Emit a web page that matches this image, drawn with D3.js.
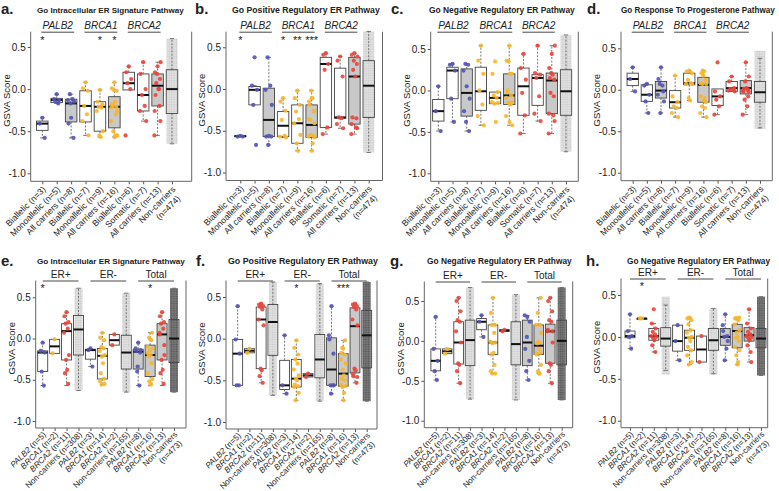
<!DOCTYPE html>
<html><head><meta charset="utf-8">
<script src="https://cdn.jsdelivr.net/npm/d3@7"></script>
<style>body{margin:0;background:#fff} text{font-family:"Liberation Sans",Arial,sans-serif;fill:#222}</style>
</head><body><svg id="chart" width="779" height="491"></svg>
<script>
// ---------------- DATA ----------------
const topCats = ["Biallelic (n=3)","Monoallelic (n=5)","All carriers (n=8)","Biallelic (n=7)","Monoallelic (n=9)","All carriers (n=16)","Biallelic (n=6)","Somatic (n=7)","All carriers (n=13)","Non-carriers|(n=474)"];
const topGene = ["PALB2","PALB2","PALB2","BRCA1","BRCA1","BRCA1","BRCA2","BRCA2","BRCA2","NC"];
const topFill = ["w","w","g","w","w","g","w","w","g","w"];
const topGroups = [["PALB2",0,2],["BRCA1",3,5],["BRCA2",6,8]];

const botGeneLbl = ["PALB2","BRCA1","BRCA2","Non-carriers","PALB2","BRCA1","BRCA2","Non-carriers","PALB2","BRCA1","BRCA2","Non-carriers"];
const botN = ["(n=5)","(n=2)","(n=11)","(n=308)","(n=3)","(n=14)","(n=2)","(n=165)","(n=8)","(n=16)","(n=13)","(n=473)"];
const botGene = ["PALB2","BRCA1","BRCA2","NC","PALB2","BRCA1","BRCA2","NC","PALB2","BRCA1","BRCA2","NCD"];
const botFill = ["w","w","w","w","w","w","w","w","g","g","g","g"];
const botGroups = [["ER+",0,3],["ER-",4,7],["Total",8,11]];

const titles = {a:"Go Intracellular ER Signature Pathway", b:"Go Positive Regulatory ER Pathway", c:"Go Negative Regulatory ER Pathway", d:"Go Response To Progesterone Pathway",
  e:"Go Intracellular ER Signature Pathway", f:"Go Positive Regulatory ER Pathway", g:"Go Negative Regulatory ER Pathway", h:"Go Negative Regulatory ER Pathway"};

// box stats: [whiskerLow, q1, median, q3, whiskerHigh]
const boxA = [[-0.58,-0.49,-0.41,-0.38,-0.34],[-0.17,-0.16,-0.13,-0.11,-0.06],[-0.58,-0.39,-0.17,-0.12,-0.06],[-0.55,-0.39,-0.2,-0.02,0.08],[-0.57,-0.5,-0.21,-0.15,-0.01],[-0.57,-0.46,-0.21,-0.09,0.08],[-0.01,-0.01,0.07,0.2,0.27],[-0.38,-0.26,-0.07,0.18,0.32],[-0.55,-0.2,0.04,0.18,0.32],[-0.65,-0.29,0.0,0.23,0.6]];
const ptsA1 = [-0.34,-0.41,-0.58], ptsA2 = [-0.06,-0.12,-0.13,-0.15,-0.17];
const ptsA4 = [0.08,0.01,-0.02,-0.2,-0.3,-0.38,-0.55], ptsA5 = [-0.01,-0.15,-0.18,-0.21,-0.22,-0.26,-0.5,-0.55,-0.57];
const ptsA7 = [0.27,0.2,0.12,0.07,0.0,-0.55], ptsA8 = [0.32,0.18,0.0,-0.07,-0.2,-0.26,-0.38];
const cloudA = [-0.65,0.6];
const starsA = ["*","","","","*","*","","","",""];

const boxB = [[-0.57,-0.57,-0.565,-0.56,-0.56],[-0.19,-0.19,-0.01,0.03,0.04],[-0.67,-0.57,-0.37,0.01,0.38],[-0.58,-0.57,-0.44,-0.27,-0.11],[-0.74,-0.65,-0.41,-0.19,-0.02],[-0.74,-0.58,-0.43,-0.19,-0.02],[-0.54,-0.46,0.30,0.38,0.43],[-0.47,-0.35,-0.34,0.25,0.39],[-0.54,-0.42,0.15,0.38,0.43],[-0.76,-0.34,0.04,0.34,0.69]];
const ptsB1 = [-0.56,-0.57,-0.57], ptsB2 = [0.38,0.04,-0.01,-0.19,-0.67];
const ptsB4 = [-0.11,-0.15,-0.26,-0.37,-0.56,-0.57,-0.58], ptsB5 = [-0.02,-0.11,-0.19,-0.27,-0.36,-0.41,-0.55,-0.65,-0.74];
const ptsB7 = [0.43,0.41,0.3,0.23,-0.46,-0.54], ptsB8 = [0.39,0.34,0.15,-0.34,-0.35,-0.42,-0.47];
const cloudB = [-0.76,0.69];
const starsB = ["*","","","*","**","***","","","",""];

const boxC = [[-0.49,-0.37,-0.25,-0.11,0.05],[-0.38,-0.1,0.24,0.28,0.32],[-0.49,-0.31,-0.03,0.26,0.32],[-0.42,-0.24,-0.01,0.28,0.54],[-0.16,-0.16,-0.09,-0.02,-0.02],[-0.42,-0.17,-0.06,0.2,0.54],[-0.52,-0.3,0.05,0.27,0.44],[-0.37,-0.18,0.15,0.19,0.54],[-0.52,-0.28,0.12,0.21,0.54],[-0.74,-0.3,-0.01,0.25,0.67]];
const ptsC1 = [0.05,-0.25,-0.49], ptsC2 = [0.32,0.31,0.24,-0.1,-0.38];
const ptsC4 = [0.54,0.36,0.2,0.0,-0.17,-0.31,-0.42], ptsC5 = [0.35,0.2,-0.02,-0.06,-0.09,-0.14,-0.15,-0.16,-0.38];
const ptsC7 = [0.44,0.27,0.13,-0.03,-0.3,-0.52], ptsC8 = [0.54,0.21,0.19,0.15,-0.07,-0.28,-0.37];
const cloudC = [-0.74,0.67];
const starsC = ["","","","","","","","","",""];

const boxD = [[-0.02,0.05,0.13,0.2,0.27],[-0.28,-0.14,-0.06,0.06,0.07],[-0.28,-0.1,-0.01,0.1,0.27],[-0.33,-0.22,-0.15,-0.01,0.17],[-0.13,0.06,0.08,0.2,0.23],[-0.33,-0.15,0.06,0.15,0.23],[-0.3,-0.19,-0.08,0.01,0.01],[-0.02,-0.02,0.02,0.1,0.16],[-0.3,-0.05,0.02,0.11,0.33],[-0.46,-0.15,-0.03,0.1,0.38]];
const ptsD1 = [0.27,0.13,-0.02], ptsD2 = [0.07,0.05,-0.06,-0.14,-0.28];
const ptsD4 = [0.17,-0.08,-0.15,-0.2,-0.22,-0.28,-0.33], ptsD5 = [0.23,0.22,0.2,0.12,0.08,0.07,0.07,-0.1,-0.13];
const ptsD7 = [0.33,-0.02,-0.08,-0.12,-0.2,-0.3], ptsD8 = [0.16,0.1,0.02,0.01,0.0,-0.01,-0.02];
const cloudD = [-0.47,0.47];
const starsD = ["","","","","","","","","",""];

const boxE = [[-0.57,-0.4,-0.17,-0.15,-0.05],[-0.18,-0.18,-0.095,-0.01,-0.01],[-0.57,-0.26,0.09,0.18,0.32],[-0.63,-0.2,0.11,0.28,0.61],[-0.34,-0.25,-0.14,-0.13,-0.12],[-0.56,-0.49,-0.21,-0.12,0.07],[-0.08,-0.08,-0.02,0.05,0.05],[-0.65,-0.37,-0.17,0.04,0.55],[-0.57,-0.37,-0.16,-0.13,-0.05],[-0.57,-0.46,-0.2,-0.08,0.07],[-0.57,-0.26,0.05,0.18,0.32],[-0.65,-0.29,0.0,0.23,0.61]];
const ptsE1 = [-0.05,-0.15,-0.17,-0.4,-0.57], ptsE2 = [-0.01,-0.18], ptsE3 = [0.32,0.27,0.2,0.18,0.12,0.07,-0.2,-0.26,-0.38,-0.42,-0.55];
const ptsE5 = [-0.12,-0.14,-0.34], ptsE6 = [0.07,0.01,-0.02,-0.1,-0.12,-0.15,-0.2,-0.22,-0.3,-0.42,-0.49,-0.52,-0.55,-0.56], ptsE7 = [0.05,-0.08];
const cloudsE = [[-0.63,0.61],[-0.65,0.55],[-0.65,0.61]];
const starsE = ["*","","","","","","","","","*","",""];

const boxF = [[-0.56,-0.56,-0.18,-0.01,0.39],[-0.17,-0.17,-0.145,-0.12,-0.12],[-0.53,-0.36,0.23,0.38,0.42],[-0.68,-0.2,0.2,0.41,0.68],[-0.66,-0.61,-0.56,-0.26,0.04],[-0.74,-0.58,-0.48,-0.25,-0.02],[-0.46,-0.46,-0.44,-0.42,-0.42],[-0.75,-0.47,-0.25,0.05,0.66],[-0.66,-0.56,-0.37,0.01,0.39],[-0.74,-0.57,-0.42,-0.18,-0.02],[-0.53,-0.41,0.15,0.37,0.42],[-0.75,-0.35,0.04,0.34,0.68]];
const ptsF1 = [0.39,-0.01,-0.18,-0.56,-0.56], ptsF2 = [-0.12,-0.17], ptsF3 = [0.42,0.41,0.39,0.38,0.35,0.23,0.16,-0.36,-0.38,-0.45,-0.53];
const ptsF5 = [0.04,-0.56,-0.66], ptsF6 = [-0.02,-0.11,-0.19,-0.25,-0.3,-0.37,-0.44,-0.48,-0.5,-0.55,-0.57,-0.58,-0.65,-0.74], ptsF7 = [-0.42,-0.46];
const cloudsF = [[-0.68,0.68],[-0.75,0.66],[-0.75,0.68]];
const starsF = ["","","","","","*","","","","***","",""];

const boxG = [[-0.49,-0.375,-0.25,-0.1,0.3],[-0.16,-0.16,-0.13,-0.1,-0.1],[-0.53,-0.29,-0.02,0.24,0.54],[-0.73,-0.31,0.01,0.26,0.67],[0.05,0.14,0.24,0.28,0.32],[-0.41,-0.17,-0.02,0.2,0.54],[0.12,0.12,0.13,0.14,0.14],[-0.74,-0.3,-0.04,0.24,0.58],[-0.49,-0.31,-0.02,0.26,0.32],[-0.41,-0.17,-0.06,0.2,0.54],[-0.53,-0.28,0.12,0.21,0.54],[-0.74,-0.3,0.0,0.26,0.67]];
const ptsG1 = [0.3,-0.1,-0.25,-0.38,-0.49], ptsG2 = [-0.1,-0.16], ptsG3 = [0.54,0.5,0.37,0.26,0.24,0.12,-0.02,-0.28,-0.3,-0.38,-0.53];
const ptsG5 = [0.32,0.24,0.05], ptsG6 = [0.54,0.35,0.2,0.2,0.1,-0.01,-0.02,-0.03,-0.15,-0.17,-0.3,-0.38,-0.41,-0.41], ptsG7 = [0.14,0.12];
const cloudsG = [[-0.73,0.67],[-0.74,0.58],[-0.74,0.67]];
const starsG = ["","","","","","","","","","","",""];

const boxH = [[-0.14,-0.01,0.01,0.07,0.27],[0.21,0.21,0.22,0.22,0.22],[-0.18,-0.04,0.01,0.1,0.16],[-0.4,-0.11,-0.02,0.11,0.38],[-0.28,-0.17,-0.05,0.14,0.14],[-0.33,-0.16,-0.01,0.08,0.23],[-0.3,-0.3,-0.15,0.01,0.01],[-0.44,-0.16,-0.04,0.1,0.34],[-0.28,-0.1,0.0,0.1,0.27],[-0.33,-0.13,0.07,0.15,0.23],[-0.3,-0.05,0.02,0.11,0.33],[-0.46,-0.13,-0.02,0.1,0.48]];
const ptsH1 = [0.27,0.07,0.01,0.0,-0.14], ptsH2 = [0.22,0.22], ptsH3 = [0.33,0.16,0.1,0.06,0.03,0.01,0.0,-0.02,-0.04,-0.1,-0.18];
const ptsH5 = [0.14,-0.05,-0.28], ptsH6 = [0.23,0.22,0.2,0.15,0.08,0.05,0.0,-0.01,-0.05,-0.12,-0.16,-0.22,-0.3,-0.33], ptsH7 = [0.01,-0.3];
const cloudsH = [[-0.45,0.48],[-0.45,0.34],[-0.46,0.48]];
const starsH = ["","*","","","","","","","","","",""];

const yTicks = [0.5, 0.0, -0.5, -1.0];

// ---------------- ASSEMBLY ----------------
const topPts = (p1,p2,p4,p5,p7,p8) => [p1,p2,p1.concat(p2),p4,p5,p4.concat(p5),p7,p8,p7.concat(p8),null];
const botPts = (p1,p2,p3,p5,p6,p7) => [p1,p2,p3,null,p5,p6,p7,null,p1.concat(p5),p2.concat(p6),p3.concat(p7),null];

const panels = [
 {id:"a", row:"top", box:boxA, pts:topPts(ptsA1,ptsA2,ptsA4,ptsA5,ptsA7,ptsA8), clouds:[null,null,null,null,null,null,null,null,null,cloudA], stars:starsA,
  L:{x0:30.7,x1:191.7,c1:42.3,cN:172,y05:47,y10:173.3,top:31.7,t0:37,t1:184,lx:1}},
 {id:"b", row:"top", box:boxB, pts:topPts(ptsB1,ptsB2,ptsB4,ptsB5,ptsB7,ptsB8), clouds:[null,null,null,null,null,null,null,null,null,cloudB], stars:starsB,
  L:{x0:226,x1:382.5,c1:240.3,cN:368.7,y05:47.3,y10:172.5,top:31.7,t0:232,t1:380,lx:195}},
 {id:"c", row:"top", box:boxC, pts:topPts(ptsC1,ptsC2,ptsC4,ptsC5,ptsC7,ptsC8), clouds:[null,null,null,null,null,null,null,null,null,cloudC], stars:starsC,
  L:{x0:430.7,x1:578.3,c1:438.3,cN:566,y05:49,y10:173.3,top:31.7,t0:429,t1:575,lx:391}},
 {id:"d", row:"top", box:boxD, pts:topPts(ptsD1,ptsD2,ptsD4,ptsD5,ptsD7,ptsD8), clouds:[null,null,null,null,null,null,null,null,null,cloudD], stars:starsD,
  L:{x0:621,x1:772.3,c1:632.7,cN:760,y05:48.3,y10:172.7,top:31.7,t0:621,t1:775,lx:587}},
 {id:"e", row:"bot", box:boxE, pts:botPts(ptsE1,ptsE2,ptsE3,ptsE5,ptsE6,ptsE7), clouds:[null,null,null,cloudsE[0],null,null,null,cloudsE[1],null,null,null,cloudsE[2]], stars:starsE,
  L:{x0:35.7,x1:186,c1:42.7,cN:174,y05:297.3,y10:421,top:280.5,t0:37,t1:185,lx:1}},
 {id:"f", row:"bot", box:boxF, pts:botPts(ptsF1,ptsF2,ptsF3,ptsF5,ptsF6,ptsF7), clouds:[null,null,null,cloudsF[0],null,null,null,cloudsF[1],null,null,null,cloudsF[2]], stars:starsF,
  L:{x0:226,x1:377,c1:237.7,cN:366.7,y05:297,y10:422,top:280.5,t0:228,t1:378,lx:196}},
 {id:"g", row:"bot", box:boxG, pts:botPts(ptsG1,ptsG2,ptsG3,ptsG5,ptsG6,ptsG7), clouds:[null,null,null,cloudsG[0],null,null,null,cloudsG[1],null,null,null,cloudsG[2]], stars:starsG,
  L:{x0:424.3,x1:572.7,c1:435.7,cN:561.7,y05:301,y10:420.7,top:281.5,t0:427,t1:572,lx:390}},
 {id:"h", row:"bot", box:boxH, pts:botPts(ptsH1,ptsH2,ptsH3,ptsH5,ptsH6,ptsH7), clouds:[null,null,null,cloudsH[0],null,null,null,cloudsH[1],null,null,null,cloudsH[2]], stars:starsH,
  L:{x0:621,x1:767.7,c1:630,cN:761,y05:295,y10:420.7,top:278.5,t0:627,t1:770,lx:586}}
];

const color = {PALB2:"#5353b3", BRCA1:"#f6b62c", BRCA2:"#e9443a"};
const jit = [0,-2.6,2.4,-1.3,1.5,-3.2,3.0,-0.6,0.8,-2.0,2.0,-2.9,2.8,-1.0,1.1,0.3,-1.7,1.8,-0.3,2.6,-2.4,0.5,-1.5,1.3,-0.9,0.9,-3.1,3.1,0.1,-2.2];

const svg = d3.select("#chart");
const defs = svg.append("defs");
function pat(id, bg, dot) {
  const p = defs.append("pattern").attr("id", id).attr("patternUnits","userSpaceOnUse").attr("width",2.4).attr("height",2.4);
  p.append("rect").attr("width",2.4).attr("height",2.4).attr("fill",bg);
  p.append("circle").attr("cx",1.2).attr("cy",1.2).attr("r",0.85).attr("fill",dot);
}
pat("lightCloud","#e0e0e0","#c4c4c4");
pat("darkCloud","#767676","#4d4d4d");

panels.forEach(P => {
  const L = P.L, isTop = P.row === "top";
  const n = P.box.length;
  const g = svg.append("g");
  const keys = d3.range(n);
  const x = d3.scalePoint().domain(keys).range([L.c1, L.cN]);
  const y = d3.scaleLinear().domain([0.5,-1.0]).range([L.y05, L.y10]);
  const bottom = L.y10 + (isTop ? 8 : 7);
  const step = (L.cN - L.c1)/(n-1);
  const bw = step * (isTop ? 0.8 : 0.84);
  const cw = isTop ? 11 : 8;
  const fills = isTop ? topFill : botFill;
  const genes = isTop ? topGene : botGene;
  const lblSize = isTop ? 8.7 : 8.2;

  // title + letter
  g.append("text").attr("x", L.lx).attr("y", isTop ? 13.5 : 265.5).attr("font-size", 15).attr("font-weight","bold").text(P.id + ".");
  const tt = g.append("text").attr("x", L.t0).attr("y", isTop ? 12.5 : 263.5).attr("font-size", 9).attr("font-weight","bold").text(titles[P.id]);
  const natural = tt.node().getComputedTextLength();
  tt.attr("font-size", (9 * (L.t1 - L.t0) / natural).toFixed(2));

  // y axis
  const ya = d3.axisLeft(y).tickValues(yTicks).tickSize(3).tickPadding(2).tickFormat(d => d.toFixed(1));
  const yg = g.append("g").attr("transform", `translate(${L.x0},0)`).call(ya);
  yg.select(".domain").remove();
  yg.selectAll("line").attr("stroke","#555");
  yg.selectAll("text").attr("font-size", 10).attr("fill","#333").style("font-family","Liberation Sans, Arial");
  g.append("text").attr("transform", `translate(${L.x0 - 24},${(L.top + bottom)/2 - 6}) rotate(-90)`).attr("text-anchor","middle")
    .attr("dy","0.35em").attr("font-size", 9.5).text("GSVA Score");

  // x axis ticks
  const xa = d3.axisBottom(x).tickSize(3).tickFormat("");
  const xg = g.append("g").attr("transform", `translate(0,${bottom})`).call(xa);
  xg.select(".domain").remove();
  xg.selectAll("line").attr("stroke","#555");

  // frame
  g.append("path").attr("d", `M${L.x0},${L.top}V${bottom}H${L.x1}V${L.top}`).attr("fill","none").attr("stroke","#666").attr("stroke-width",1);

  // x labels
  keys.forEach(i => {
    const t = g.append("text").attr("transform", `translate(${x(i)+1.8},${bottom + (isTop ? 6.5 : 5)}) rotate(-45)`).attr("text-anchor","end").attr("font-size", lblSize).attr("fill","#222");
    const twoLine = (isTop && i === 9) || (!isTop && i === 11);
    if (twoLine) {
      const l1 = isTop ? "Non-carriers" : botGeneLbl[i];
      const l2 = isTop ? "(n=474)" : botN[i];
      t.append("tspan").attr("x",0).attr("dy","0.35em").text(l1);
      t.append("tspan").attr("x",-3).attr("dy","1.15em").text(l2);
    } else if (isTop) {
      t.append("tspan").attr("dy","0.35em").text(topCats[i]);
    } else {
      const gl = botGeneLbl[i];
      t.append("tspan").attr("dy","0.35em").attr("font-style", gl === "Non-carriers" ? "normal" : "italic").text(gl);
      t.append("tspan").text(" " + botN[i]);
    }
  });

  // group labels
  const groups = isTop ? topGroups : botGroups;
  groups.forEach(([lbl, a, b]) => {
    const xa0 = x(a) - (isTop ? 1 : 0), xb = x(b) + (isTop ? 3 : 0);
    g.append("line").attr("x1", xa0).attr("x2", xb).attr("y1", L.top + 0.5).attr("y2", L.top + 0.5).attr("stroke","#333").attr("stroke-width",0.9);
    g.append("text").attr("x", (xa0 + xb)/2).attr("y", L.top - 2.5).attr("text-anchor","middle").attr("font-size", 10)
      .attr("font-style", isTop ? "italic" : "normal").text(lbl);
  });

  // boxes
  keys.forEach(i => {
    const [lo, q1, med, q3, hi] = P.box[i];
    const cx = x(i);
    const fill = fills[i] === "g" ? "#c9c9c9" : "#ffffff";
    const bg = g.append("g");
    bg.append("rect").attr("x", cx - bw/2).attr("y", y(q3)).attr("width", bw).attr("height", Math.max(0.8, y(q1) - y(q3))).attr("fill", fill);
    const cl = P.clouds[i];
    if (cl) {
      const dark = genes[i] === "NCD";
      bg.append("rect").attr("x", cx - cw/2).attr("y", y(cl[1])).attr("width", cw).attr("height", y(cl[0]) - y(cl[1]))
        .attr("fill", dark ? "url(#darkCloud)" : "url(#lightCloud)").attr("opacity", dark ? 0.95 : 0.9);
    }
    // whiskers
    [[q3, hi],[q1, lo]].forEach(([a, b]) => {
      if (Math.abs(a - b) > 0.005) {
        bg.append("line").attr("x1", cx).attr("x2", cx).attr("y1", y(a)).attr("y2", y(b)).attr("stroke","#666").attr("stroke-width",0.9).attr("stroke-dasharray","2,1.5");
        bg.append("line").attr("x1", cx - 2.2).attr("x2", cx + 2.2).attr("y1", y(b)).attr("y2", y(b)).attr("stroke","#666").attr("stroke-width",0.9);
      }
    });
    bg.append("rect").attr("x", cx - bw/2).attr("y", y(q3)).attr("width", bw).attr("height", Math.max(0.8, y(q1) - y(q3))).attr("fill", "none").attr("stroke","#444").attr("stroke-width",0.9);
    bg.append("line").attr("x1", cx - bw/2).attr("x2", cx + bw/2).attr("y1", y(med)).attr("y2", y(med)).attr("stroke","#111").attr("stroke-width",2);
    // points
    const pts = P.pts[i];
    if (pts) {
      const gene = genes[i];
      bg.selectAll("circle.pt").data(pts).join("circle").attr("class","pt")
        .attr("cx", (d, j) => cx + jit[j % jit.length] * (isTop ? 1 : 0.8)).attr("cy", d => y(d)).attr("r", 2.1)
        .attr("fill", color[gene]).attr("opacity", 0.9);
    }
    // stars
    if (P.stars[i]) {
      g.append("text").attr("x", cx).attr("y", L.top + (isTop ? 12.5 : 11)).attr("text-anchor","middle").attr("font-size", 11).text(P.stars[i]);
    }
  });
});
</script></body></html>
